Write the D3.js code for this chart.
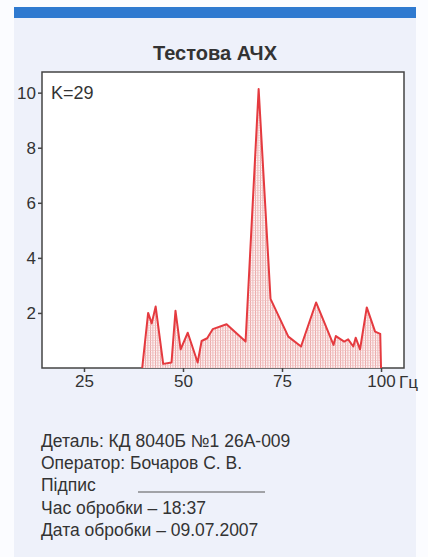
<!DOCTYPE html>
<html>
<head>
<meta charset="utf-8">
<script src="https://cdn.jsdelivr.net/npm/d3@7"></script>
<style>
  body { margin: 0; background: #fbfcff; }
  svg { display: block; font-family: "Liberation Sans", Arial, sans-serif; }
</style>
</head>
<body>
<svg width="428" height="557"></svg>
<script>
// frequency (Hz) and amplitude
var freq = [39.7, 41.2, 42.1, 43.1, 45.0, 47.1, 48.1, 49.4, 51.2, 53.7, 54.7, 56.1, 57.5, 61.0,
            65.8, 69.1, 72.1, 76.6, 79.8, 83.6, 88.0, 88.6, 90.7, 91.7, 93.0, 93.6, 94.7, 96.4, 98.5, 99.8, 100];
var amp  = [0, 2.0, 1.62, 2.23, 0.15, 0.2, 2.08, 0.68, 1.28, 0.2, 0.98, 1.08, 1.41, 1.59,
            0.96, 10.13, 2.51, 1.14, 0.78, 2.38, 0.84, 1.16, 0.96, 1.04, 0.78, 1.1, 0.68, 2.2, 1.32, 1.24, 0];
var xTicks = [25, 50, 75, 100];
var yTicks = [2, 4, 6, 8, 10];
var infoLines = ["Деталь: КД 8040Б №1 26А-009", "Оператор: Бочаров С. В.", "Підпис",
                 "Час обробки – 18:37", "Дата обробки – 09.07.2007"];

var svg = d3.select("svg");
var data = freq.map(function(f, i) { return {f: f, a: amp[i]}; });

// panel background + blue strip
svg.append("rect").attr("x", 14).attr("y", 7).attr("width", 402).attr("height", 550).attr("fill", "#eef1fa");
svg.append("rect").attr("x", 14).attr("y", 7).attr("width", 402).attr("height", 11).attr("fill", "#2f7ad0");

svg.append("text").attr("x", 215).attr("y", 60).attr("text-anchor", "middle")
   .attr("font-size", 20).attr("font-weight", "bold").attr("fill", "#333").text("Тестова АЧХ");

var x = d3.scaleLinear().domain([14.4, 105.8]).range([42, 404]);
var y = d3.scaleLinear().domain([0, 10.75]).range([368, 72]);

svg.append("rect").attr("x", 42).attr("y", 72).attr("width", 362).attr("height", 296)
   .attr("fill", "#fff").attr("stroke", "#444").attr("stroke-width", 1.5);

// dotted hatch for the filled area
var pat = svg.append("defs").append("pattern").attr("id", "hatch")
   .attr("patternUnits", "userSpaceOnUse").attr("width", 2.5).attr("height", 2.5);
pat.append("rect").attr("width", 2.5).attr("height", 2.5).attr("fill", "#fdf3f3");
pat.append("rect").attr("width", 0.8).attr("height", 2.5).attr("fill", "#e8a0a0");
pat.append("rect").attr("width", 2.5).attr("height", 0.6).attr("fill", "#f0c0c0");

svg.append("path").datum(data)
   .attr("fill", "url(#hatch)")
   .attr("d", d3.area().x(function(d) { return x(d.f); }).y0(y(0)).y1(function(d) { return y(d.a); }));

svg.append("path").datum(data)
   .attr("fill", "none").attr("stroke", "#e53a3f").attr("stroke-width", 2).attr("stroke-linejoin", "round")
   .attr("d", d3.line().x(function(d) { return x(d.f); }).y(function(d) { return y(d.a); }));

var yAxis = svg.append("g").attr("transform", "translate(42,0)")
   .call(d3.axisLeft(y).tickValues(yTicks).tickSize(4).tickPadding(2));
var xAxis = svg.append("g").attr("transform", "translate(0,368)")
   .call(d3.axisBottom(x).tickValues(xTicks).tickSize(4).tickPadding(3));
[xAxis, yAxis].forEach(function(a) {
  a.select(".domain").remove();
  a.selectAll("line").attr("stroke", "#444").attr("stroke-width", 1.5);
  a.selectAll("text").attr("font-size", 17).attr("fill", "#333")
   .attr("font-family", "Liberation Sans, Arial, sans-serif");
});
svg.append("text").attr("x", 399).attr("y", 388).attr("font-size", 17).attr("fill", "#333").text("Гц");

svg.append("text").attr("x", 51).attr("y", 99).attr("font-size", 18).attr("fill", "#333").text("K=29");

svg.selectAll(".info").data(infoLines).enter().append("text")
   .attr("class", "info")
   .attr("x", 41).attr("y", function(d, i) { return 447 + i * 22.2; })
   .attr("font-size", 17.5).attr("fill", "#333").text(function(d) { return d; });
svg.append("line").attr("x1", 138).attr("x2", 265).attr("y1", 492).attr("y2", 492)
   .attr("stroke", "#555").attr("stroke-width", 1);
</script>
</body>
</html>
